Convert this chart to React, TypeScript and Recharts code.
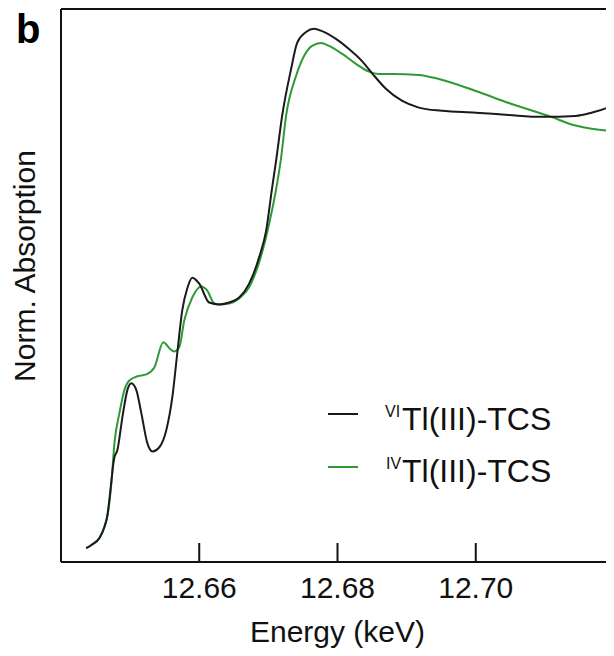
import React from "react";
import { LineChart, Line, XAxis, YAxis, ReferenceLine } from "recharts";

// Energy (keV) and normalized absorption
const energyVI = [
  12.64364, 12.6444, 12.64556, 12.64628, 12.64672, 12.64715, 12.64758, 12.64773, 12.64816,
  12.64888, 12.6496, 12.65018, 12.6509, 12.65162, 12.65249, 12.65321, 12.65422, 12.65523,
  12.6561, 12.65682, 12.65754, 12.65827, 12.65899, 12.66, 12.66144, 12.66289, 12.66433,
  12.66578, 12.66722, 12.66866, 12.66968, 12.67054, 12.67112, 12.67199, 12.67329, 12.67415,
  12.67545, 12.67661, 12.67776, 12.67978, 12.68166, 12.68354, 12.68498, 12.687, 12.68931,
  12.69177, 12.69509, 12.7, 12.70477, 12.70953, 12.71444, 12.71675, 12.71964, 12.72,
];
const absVI = [
  0.030, 0.037, 0.052, 0.076, 0.102, 0.156, 0.214, 0.227, 0.243,
  0.314, 0.373, 0.388, 0.373, 0.323, 0.258, 0.240, 0.249, 0.286,
  0.357, 0.453, 0.546, 0.594, 0.617, 0.604, 0.563, 0.559, 0.563,
  0.574, 0.604, 0.661, 0.719, 0.812, 0.871, 0.968, 1.070, 1.126,
  1.150, 1.157, 1.152, 1.135, 1.113, 1.087, 1.061, 1.027, 1.001,
  0.986, 0.979, 0.975, 0.970, 0.966, 0.968, 0.975, 0.990, 0.993,
];

const energyIV = [
  12.64364, 12.6444, 12.64556, 12.64628, 12.64672, 12.64729, 12.64773, 12.64845, 12.64917,
  12.64989, 12.65105, 12.65235, 12.6535, 12.6548, 12.65567, 12.65639, 12.65711, 12.65783,
  12.65899, 12.66029, 12.66116, 12.66217, 12.66289, 12.66433, 12.66578, 12.66722, 12.66866,
  12.67011, 12.67126, 12.67184, 12.67256, 12.67401, 12.67516, 12.67632, 12.67762, 12.67877,
  12.68065, 12.68267, 12.68455, 12.68599, 12.68787, 12.69177, 12.69466, 12.7, 12.70477,
  12.71054, 12.71444, 12.71675, 12.71964, 12.72,
];
const absIV = [
  0.030, 0.037, 0.052, 0.076, 0.100, 0.171, 0.258, 0.323, 0.373,
  0.394, 0.403, 0.407, 0.422, 0.477, 0.464, 0.457, 0.466, 0.524,
  0.574, 0.598, 0.589, 0.561, 0.559, 0.561, 0.572, 0.596, 0.650,
  0.734, 0.821, 0.877, 0.968, 1.055, 1.098, 1.120, 1.126, 1.120,
  1.103, 1.081, 1.064, 1.059, 1.059, 1.057, 1.048, 1.022, 0.996,
  0.968, 0.947, 0.940, 0.936, 0.936,
];

const xDomain = [12.64, 12.72];
const yDomain = [0, 1.2];
const xTicks = [12.66, 12.68, 12.7];
const xTickLabels = ["12.66", "12.68", "12.70"];
const seriesNames = ["VI", "IV"];

const dataVI = energyVI.map((e, i) => ({ e, v: absVI[i] }));
const dataIV = energyIV.map((e, i) => ({ e, v: absIV[i] }));

const FONT = "'Liberation Sans', Arial, Helvetica, sans-serif";
const BLACK = "#1a1a1a";
const GREEN = "#2e9a35";

const Tick = (props: any) => {
  const { x, y, payload } = props;
  const idx = xTicks.indexOf(payload.value);
  const label = idx >= 0 ? xTickLabels[idx] : String(payload.value);
  return (
    <g>
      <line x1={x} x2={x} y1={y - 19} y2={y} stroke="#111" strokeWidth={2} />
      <text x={x} y={y + 36} textAnchor="middle" fontFamily={FONT} fontSize={30} fill="#111">
        {label}
      </text>
    </g>
  );
};

export default function App() {
  return (
    <div style={{ position: "relative", width: 606, height: 640 }}>
      <LineChart
        width={606}
        height={640}
        margin={{ top: 1, right: 0, left: 53, bottom: 0 }}
      >
        <XAxis
          dataKey="e"
          type="number"
          domain={xDomain}
          ticks={xTicks}
          tick={<Tick />}
          tickLine={false}
          tickSize={0}
          tickMargin={0}
          height={86}
          axisLine={{ stroke: "#111", strokeWidth: 2 }}
          allowDataOverflow
        />
        <YAxis
          type="number"
          domain={yDomain}
          width={0}
          tick={false}
          tickLine={false}
          axisLine={false}
          allowDataOverflow
        />
        <ReferenceLine x={xDomain[0]} stroke="#111" strokeWidth={2} ifOverflow="extendDomain" />
        <ReferenceLine y={yDomain[1]} stroke="#111" strokeWidth={2} ifOverflow="extendDomain" />
        <Line
          data={dataIV}
          dataKey="v"
          type="monotone"
          stroke={GREEN}
          strokeWidth={2}
          dot={false}
          isAnimationActive={false}
        />
        <Line
          data={dataVI}
          dataKey="v"
          type="monotone"
          stroke={BLACK}
          strokeWidth={2}
          dot={false}
          isAnimationActive={false}
        />
      </LineChart>
      <svg
        width={606}
        height={640}
        style={{ position: "absolute", left: 0, top: 0, pointerEvents: "none" }}
      >
        <text x={8} y={35} fontFamily={FONT} fontWeight="bold" fontSize={40} fill="#000">
          b
        </text>
        <text
          transform="translate(27,258) rotate(-90)"
          textAnchor="middle"
          fontFamily={FONT}
          fontSize={30}
          fill="#111"
        >
          Norm. Absorption
        </text>
        <text x={329.5} y={634} textAnchor="middle" fontFamily={FONT} fontSize={30} fill="#111">
          Energy (keV)
        </text>
        <line x1={320} x2={350} y1={406} y2={406} stroke={BLACK} strokeWidth={2} />
        <text x={377} y={409} fontFamily={FONT} fontSize={16} fill="#111">
          {seriesNames[0]}
        </text>
        <text x={394} y={422} fontFamily={FONT} fontSize={32} fill="#111">
          Tl(III)-TCS
        </text>
        <line x1={320} x2={350} y1={459} y2={459} stroke={GREEN} strokeWidth={2} />
        <text x={378} y={461} fontFamily={FONT} fontSize={16} fill="#111">
          {seriesNames[1]}
        </text>
        <text x={394} y={474} fontFamily={FONT} fontSize={32} fill="#111">
          Tl(III)-TCS
        </text>
      </svg>
    </div>
  );
}
